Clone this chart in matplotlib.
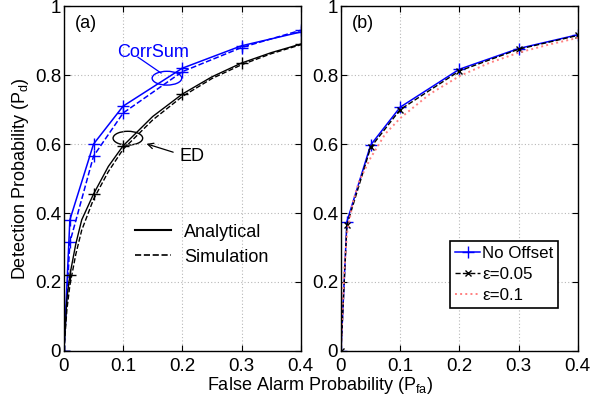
import numpy as np
import matplotlib.pyplot as plt
from matplotlib.patches import Ellipse

plt.rcParams['font.family'] = ['Liberation Sans', 'DejaVu Sans']
plt.rcParams['mathtext.fontset'] = 'custom'
plt.rcParams['mathtext.rm'] = 'Liberation Sans'
plt.rcParams['mathtext.it'] = 'Liberation Sans'

### --- data --- ###
pfa = [0, 0.01, 0.05, 0.1, 0.2, 0.3, 0.4]

# (a) CorrSum detector
corr_ana = [0, 0.38, 0.60, 0.71, 0.82, 0.885, 0.925]
corr_sim = [0, 0.315, 0.565, 0.69, 0.81, 0.88, 0.93]

# (a) energy detector, smooth curves
pfa_ed = [0, 0.005, 0.01, 0.02, 0.03, 0.05, 0.075, 0.1, 0.15, 0.2, 0.25, 0.3, 0.35, 0.4]
ed_ana = [0, 0.15, 0.22, 0.31, 0.38, 0.455, 0.535, 0.595, 0.68, 0.745, 0.795, 0.835, 0.865, 0.89]
ed_sim = [0, 0.12, 0.19, 0.28, 0.35, 0.44, 0.52, 0.585, 0.67, 0.738, 0.79, 0.83, 0.862, 0.888]
ed_pts = [0, 0.22, 0.455, 0.595, 0.745, 0.835, 0.89]

# (b) offset comparison
no_off = [0, 0.375, 0.597, 0.707, 0.817, 0.877, 0.917]
eps005 = [0, 0.365, 0.59, 0.70, 0.812, 0.875, 0.915]
pfa_eps = [0, 0.005, 0.01, 0.02, 0.03, 0.05, 0.075, 0.1, 0.15, 0.2, 0.25, 0.3, 0.35, 0.4]
eps01 = [0, 0.22, 0.34, 0.43, 0.49, 0.56, 0.63, 0.675, 0.745, 0.797, 0.835, 0.865, 0.888, 0.908]

ticks_x = [0, 0.1, 0.2, 0.3, 0.4]
ticks_y = [0, 0.2, 0.4, 0.6, 0.8, 1]
tick_lbl_y = ['0', '0.2', '0.4', '0.6', '0.8', '1']
tick_lbl_x = ['0', '0.1', '0.2', '0.3', '0.4']

fs = 13
fig = plt.figure(figsize=(5.92, 4.09), dpi=100)
ax1 = fig.add_axes([0.108, 0.142, 0.400, 0.843])
ax2 = fig.add_axes([0.576, 0.142, 0.400, 0.843])

for ax in (ax1, ax2):
    ax.set_xlim(0, 0.4)
    ax.set_ylim(0, 1)
    ax.set_xticks(ticks_x)
    ax.set_xticklabels(tick_lbl_x)
    ax.set_yticks(ticks_y)
    ax.set_yticklabels(tick_lbl_y)
    ax.tick_params(direction='in', top=True, right=True, labelsize=fs + 0.5, length=4)
    ax.tick_params(axis='x', pad=5)
    ax.tick_params(axis='y', pad=2)
    ax.grid(True, linestyle=(0, (1, 2)), color='#b8b8b8', linewidth=0.8)
    for s in ax.spines.values():
        s.set_linewidth(1.0)

### --- (a) --- ###
ax1.plot(pfa, corr_ana, '-', color='blue', marker='+', ms=8, lw=1.1)
ax1.plot(pfa, corr_sim, '--', color='blue', marker='+', ms=8, lw=1.1)
ax1.plot(pfa_ed, ed_ana, '-', color='black', lw=1.0)
ax1.plot(pfa_ed, ed_sim, '--', color='black', lw=1.0)
ax1.plot(pfa, ed_pts, ls='none', color='black', marker='+', ms=8)

l1, = ax1.plot([], [], '-', color='black', lw=1.5, label='Analytical')
l2, = ax1.plot([], [], '--', color='black', lw=1.2, label='Simulation')
ax1.legend(handles=[l1, l2], loc='upper left', bbox_to_anchor=(0.27, 0.39),
           frameon=False, fontsize=fs, handlelength=2.0, handletextpad=0.7,
           labelspacing=0.45, borderaxespad=0)

ax1.add_patch(Ellipse((0.174, 0.791), 0.05, 0.04, fill=False, ec='blue', lw=1.0))
ax1.add_patch(Ellipse((0.108, 0.617), 0.05, 0.04, fill=False, ec='black', lw=1.0))
ax1.plot([0.125, 0.164], [0.852, 0.806], color='blue', lw=0.9)
ax1.text(0.15, 0.865, 'CorrSum', color='blue', ha='center', va='center', fontsize=fs)
ax1.annotate('', xy=(0.135, 0.603), xytext=(0.189, 0.574),
             arrowprops=dict(arrowstyle='->', color='black', lw=0.9))
ax1.text(0.217, 0.565, 'ED', ha='center', va='center', fontsize=fs)
ax1.text(0.018, 0.95, '(a)', ha='left', va='center', fontsize=fs)
ax1.set_ylabel('Detection Probability (P$_\\mathrm{d}$)', fontsize=fs, labelpad=3)

### --- (b) --- ###
ax2.plot(pfa, no_off, '-', color='blue', marker='+', ms=8, lw=1.1, label='No Offset')
ax2.plot(pfa, eps005, '--', color='black', marker='x', ms=5, lw=1.0, label='\u03b5=0.05')
ax2.plot(pfa_eps, eps01, ':', color='#ff8080', lw=1.4, label='\u03b5=0.1')
leg = ax2.legend(loc='lower left', bbox_to_anchor=(0.46, 0.125), fontsize=fs - 0.8,
                 handlelength=1.5, handletextpad=0.1, borderpad=0.3, labelspacing=0.35,
                 borderaxespad=0, fancybox=False, framealpha=1, edgecolor='black')
leg.get_frame().set_linewidth(1.2)
ax2.text(0.018, 0.95, '(b)', ha='left', va='center', fontsize=fs)

fig.text(0.54, 0.058, 'False Alarm Probability (P$_\\mathrm{fa}$)', ha='center', va='center', fontsize=fs)

fig.savefig('out.png', dpi=100)
